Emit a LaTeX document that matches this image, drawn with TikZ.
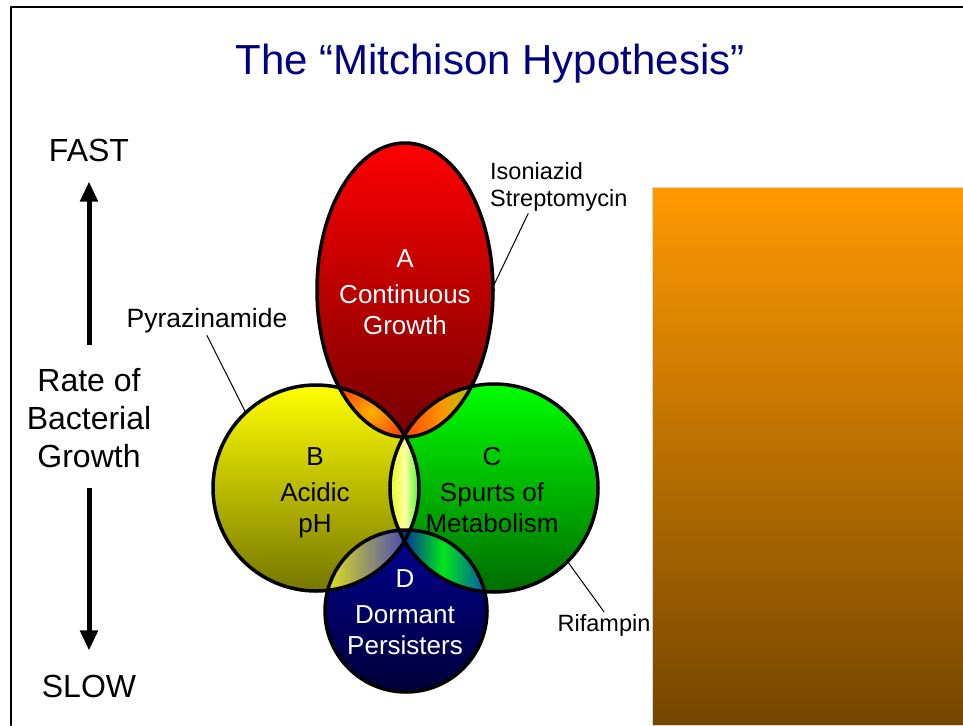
\documentclass[tikz,border=0pt]{standalone}
\usepackage{fontspec}
\setmainfont{Liberation Sans}
\usepackage{tikz}
\usetikzlibrary{arrows.meta,shapes.geometric}

\definecolor{titleblue}{HTML}{000080}
\definecolor{panelTop}{HTML}{FF9900}
\definecolor{panelBot}{HTML}{744600}
\definecolor{redTop}{HTML}{FF0000}
\definecolor{redBot}{HTML}{760000}
\definecolor{yelTop}{HTML}{FFFF00}
\definecolor{yelBot}{HTML}{767600}
\definecolor{grnTop}{HTML}{00FF00}
\definecolor{grnBot}{HTML}{006C00}
\definecolor{bluTop}{HTML}{000094}
\definecolor{bluBot}{HTML}{000038}
\definecolor{lensRed}{HTML}{FF3C00}
\definecolor{lensOrange}{HTML}{FF9400}
\definecolor{lensAmber}{HTML}{FFB400}
\definecolor{lensLime}{HTML}{94D000}

\begin{document}
\begin{tikzpicture}[line cap=round,line join=round,x=1pt,y=-1pt,
  venn/.style={inner sep=0pt,outer sep=0pt},
  ring/.style={draw=black,line width=3.5pt},
  inWhite/.style={text=white,align=center,inner sep=2pt,font=\fontsize{26}{31}\selectfont},
  inBlack/.style={text=black,align=center,inner sep=2pt,font=\fontsize{26}{31}\selectfont},
  drug/.style={align=left,inner sep=2pt,font=\fontsize{23.5}{27}\selectfont},
  axislbl/.style={align=center,inner sep=2pt,font=\fontsize{32}{38}\selectfont},
  leader/.style={line width=1pt},
  rateArrow/.style={line width=5pt,line cap=butt,-{Triangle[length=20pt,width=17pt]}}]
\useasboundingbox (0,0) rectangle (963,725);
% slide frame and title
\draw[line width=2pt] (11,725) -- (11,7) -- (963,7);
\node[text=titleblue,font=\fontsize{42}{50}\selectfont] (title) at (490,64) {The “Mitchison Hypothesis”};
% picture on the right
\shade[top color=panelTop,bottom color=panelBot,draw=black!15,line width=0.8pt] (652,187) rectangle (963,725);

% the four populations
\node[venn,circle,minimum size=206pt,top color=yelTop,bottom color=yelBot] (B) at (316,488) {};
\node[venn,circle,minimum size=208pt,top color=grnTop,bottom color=grnBot] (C) at (494,488) {};
\node[venn,circle,minimum size=162pt,top color=bluTop,bottom color=bluBot] (D) at (406,611) {};
\node[venn,ellipse,minimum width=176pt,minimum height=294pt,top color=redTop,bottom color=redBot] (A) at (405,290) {};

% overlaps
\begin{scope}
\clip (A.center) ellipse [x radius=88,y radius=147];
\clip (B.center) circle [radius=103];
\fill[inner color=lensAmber,outer color=lensRed] (330,378) rectangle (412,446);
\end{scope}
\begin{scope}
\clip (A.center) ellipse [x radius=88,y radius=147];
\clip (C.center) circle [radius=104];
\fill[left color=lensRed,right color=lensLime,middle color=lensOrange] (400,378) rectangle (482,446);
\end{scope}
\begin{scope}
\clip (B.center) circle [radius=103];
\clip (C.center) circle [radius=104];
\fill[left color=yellow!90!green,right color=green!90!yellow,middle color=yellow!35!white] (388,428) rectangle (422,548);
\end{scope}
\begin{scope}
\clip (B.center) circle [radius=103];
\clip (D.center) circle [radius=81];
\fill[left color=yellow!75!gray,right color=blue!50!gray] (328,528) rectangle (410,596);
\end{scope}
\begin{scope}
\clip (C.center) circle [radius=104];
\clip (D.center) circle [radius=81];
\fill[left color=blue!60!teal!80!black,right color=teal!70!blue,middle color=green!80!teal] (402,528) rectangle (484,596);
\end{scope}

% outlines on top
\draw[ring] (B.center) circle [radius=103];
\draw[ring] (C.center) circle [radius=104];
\draw[ring] (D.center) circle [radius=81];
\draw[ring] (A.center) ellipse [x radius=88,y radius=147];

% circle texts
\node[inWhite] (tA) at (405,292) {A\\[5pt]Continuous\\Growth};
\node[inBlack] (tB) at (315,493) {B\\[5pt]Acidic\\pH};
\node[inBlack] (tC) at (492,490) {C\\[5pt]Spurts of\\Metabolism};
\node[inWhite] (tD) at (405,612) {D\\[5pt]Dormant\\Persisters};

% drugs
\node[drug,font=\fontsize{26.5}{30}\selectfont] (pyr) at (207,321) {Pyrazinamide};
\node[drug,anchor=west] (iso) at (488,187) {Isoniazid\\Streptomycin};
\node[drug] (rif) at (604,625) {Rifampin};
\draw[leader] (pyr.south) -- (B.133);
\draw[leader] (iso.-139) -- (A.2);
\draw[leader] (rif.north) -- (C.-45);

% growth rate axis
\node[axislbl] (fast) at (89,150) {FAST};
\node[axislbl] (rate) at (89,418) {Rate of\\Bacterial\\Growth};
\node[axislbl] (slow) at (89,686) {SLOW};
\draw[rateArrow,shorten <=21pt,shorten >=18pt] (rate) -- (fast);
\draw[rateArrow,shorten <=18pt,shorten >=22pt] (rate) -- (slow);
\end{tikzpicture}
\end{document}
